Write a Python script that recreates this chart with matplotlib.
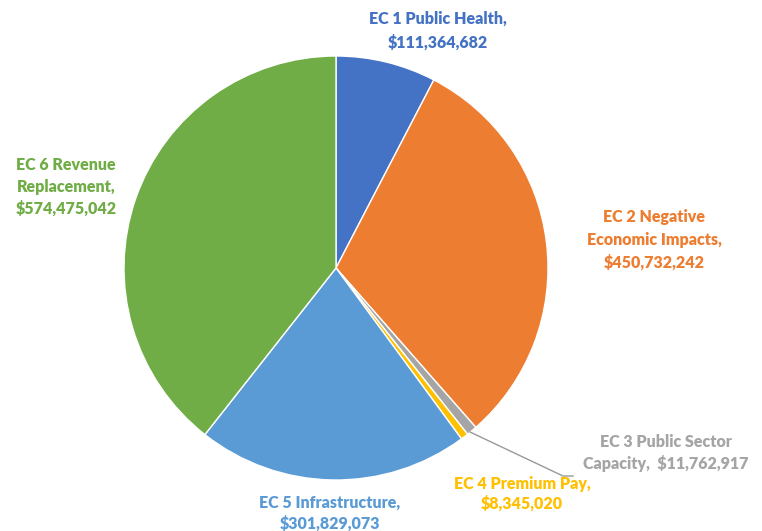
import matplotlib.pyplot as plt

categories = ["EC 1 Public Health", "EC 2 Negative Economic Impacts",
              "EC 3 Public Sector Capacity", "EC 4 Premium Pay",
              "EC 5 Infrastructure", "EC 6 Revenue Replacement"]
amounts = [111364682, 450732242, 11762917, 8345020, 301829073, 574475042]
colors = ["#4472C4", "#ED7D31", "#A5A5A5", "#FFC000", "#5B9BD5", "#70AD47"]

# label text as it appears, line breaks included
label_text = ["EC 1 Public Health,\n$111,364,682",
              "EC 2 Negative\nEconomic Impacts,\n$450,732,242",
              "EC 3 Public Sector\nCapacity,  $11,762,917",
              "EC 4 Premium Pay,\n$8,345,020",
              "EC 5 Infrastructure,\n$301,829,073",
              "EC 6 Revenue\nReplacement,\n$574,475,042"]
label_pos = [(438, 500), (654, 291), (666, 78), (522, 37), (330, 18), (66, 344)]
label_spacing = [1.55, 1.5, 1.35, 1.3, 1.35, 1.45]

plt.rcParams['font.family'] = ['Lato', 'DejaVu Sans']

fig = plt.figure(figsize=(7.62, 5.31), dpi=100, facecolor='white')
ax = fig.add_axes([0, 0, 1, 1])

ax.pie(amounts, colors=colors, startangle=90, counterclock=False,
       center=(336, 263), radius=212, frame=True,
       wedgeprops=dict(edgecolor='white', linewidth=1))

for txt, (x, y), c, ls in zip(label_text, label_pos, colors, label_spacing):
    ax.text(x, y, txt, color=c, fontsize=11.5, fontweight='heavy',
            ha='center', va='center', linespacing=ls)

# leader line for the small EC 3 slice
ax.plot([470, 563, 573], [99, 55, 55], color='#999999', lw=1)

ax.set_xlim(0, 762)
ax.set_ylim(0, 531)
ax.axis('off')

fig.savefig("out.png", dpi=100, facecolor='white')
